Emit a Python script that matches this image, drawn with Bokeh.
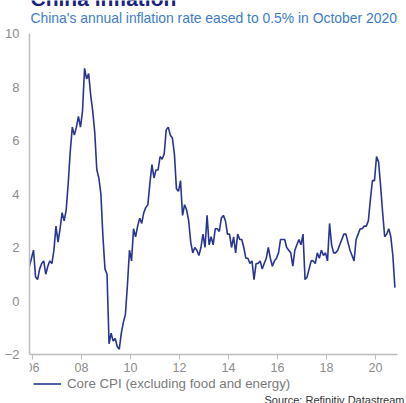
import numpy as np
from bokeh.plotting import figure
from bokeh.models import Legend, LegendItem, FixedTicker, Range1d, Label
from bokeh.embed import file_html
from bokeh.resources import INLINE

start_year = 2005
start_month = 11
cpi = [
    1.3, 1.6,
    1.9, 0.9, 0.8, 1.2, 1.4, 1.5, 1.0, 1.3, 1.5, 1.4, 1.9, 2.8,
    2.2, 2.7, 3.3, 3.0, 3.4, 4.4, 5.6, 6.5, 6.2, 6.5, 6.9, 6.5,
    7.1, 8.7, 8.3, 8.5, 7.7, 7.1, 6.3, 4.9, 4.6, 4.0, 2.4, 1.2,
    1.0, -1.6, -1.2, -1.5, -1.4, -1.7, -1.8, -1.2, -0.8, -0.5, 0.6, 1.9,
    1.5, 2.7, 2.4, 2.8, 3.1, 2.9, 3.3, 3.5, 3.6, 4.4, 5.1, 4.6,
    4.9, 4.9, 5.4, 5.3, 5.5, 6.4, 6.5, 6.2, 6.1, 5.5, 4.2, 4.1,
    4.5, 3.2, 3.6, 3.4, 3.0, 2.2, 1.8, 2.0, 1.9, 1.7, 2.0, 2.5,
    2.0, 3.2, 2.1, 2.4, 2.1, 2.7, 2.7, 2.6, 3.1, 3.2, 3.0, 2.5,
    2.5, 2.0, 2.4, 1.8, 2.5, 2.3, 2.3, 2.0, 1.6, 1.6, 1.4, 1.5,
    0.8, 1.4, 1.4, 1.5, 1.2, 1.4, 1.6, 2.0, 1.6, 1.3, 1.5, 1.6,
    1.8, 2.3, 2.3, 2.3, 2.0, 1.9, 1.8, 1.3, 1.9, 2.1, 2.3, 2.1,
    2.5, 0.8, 0.9, 1.2, 1.5, 1.5, 1.4, 1.8, 1.6, 1.9, 1.7, 1.8,
    1.5, 2.9, 2.1, 1.8, 1.8, 1.9, 2.1, 2.3, 2.5, 2.5, 2.2, 1.9,
    1.7, 1.5, 2.3, 2.5, 2.7, 2.7, 2.8, 2.8, 3.0, 3.8, 4.5, 4.5,
    5.4, 5.2, 4.3, 3.3, 2.4, 2.5, 2.7, 2.4, 1.7, 0.5,
]
x_ticks = [2006, 2008, 2010, 2012, 2014, 2016, 2018, 2020]
x_tick_labels = ["06", "08", "10", "12", "14", "16", "18", "20"]
y_ticks = [-2, 0, 2, 4, 6, 8, 10]

title_text = "China inflation"
subtitle_text = "China's annual inflation rate eased to 0.5% in October 2020"
legend_text = "Core CPI (excluding food and energy)"
source_text = "Source: Refinitiv Datastream"

months = np.arange(len(cpi))
xs = start_year + (start_month - 1 + months + 0.5) / 12.0

FONT = "Liberation Sans"
LINE = "#283593"

W, H = 406, 403
LEFT = 29
PX_PER_YEAR = 24.5
X0_PX = 32
Y_TOP_PX, Y_BOT_PX = 33, 354
px_per_unit = (Y_BOT_PX - Y_TOP_PX) / 12.0

x_lo = 2006 - (X0_PX - LEFT) / PX_PER_YEAR
x_hi = 2006 + (W - X0_PX) / PX_PER_YEAR
y_hi = 10 + Y_TOP_PX / px_per_unit
y_lo = -2 - (H - Y_BOT_PX) / px_per_unit

p = figure(width=W, height=H, output_backend="svg", toolbar_location=None,
           x_range=Range1d(x_lo, x_hi), y_range=Range1d(y_lo, y_hi),
           min_border_left=LEFT, min_border_right=0, min_border_top=0,
           min_border_bottom=0)
p.outline_line_color = None
p.xgrid.grid_line_color = None
p.ygrid.grid_line_color = None
p.background_fill_color = "white"
p.border_fill_color = "white"

r = p.line(xs, cpi, line_color=LINE, line_width=1.6)

p.xaxis.fixed_location = -2
p.xaxis.bounds = (x_lo, 2020.9)
p.yaxis.bounds = (-2, 10)
p.xaxis.ticker = FixedTicker(ticks=x_ticks)
p.xaxis.major_label_overrides = {t: l for t, l in zip(x_ticks, x_tick_labels)}
p.yaxis.ticker = FixedTicker(ticks=y_ticks)
for ax in (p.xaxis[0], p.yaxis[0]):
    ax.major_label_text_font = FONT
    ax.major_label_text_color = "#8c8c8c"
    ax.minor_tick_line_color = None
    ax.axis_line_color = "#bdbdbd"
    ax.axis_line_width = 1.5
p.xaxis.major_label_text_font_size = "12.5px"
p.yaxis.major_label_text_font_size = "13px"
p.xaxis.major_tick_line_color = "#bdbdbd"
p.xaxis.major_tick_out = 5
p.xaxis.major_tick_in = 0
p.xaxis.major_label_standoff = 3
p.yaxis.major_tick_line_color = None
p.yaxis.major_label_standoff = 4

def fy(canvas_y):
    return H - canvas_y

p.add_layout(Label(x=1, y=fy(-2.3), x_units="screen", y_units="screen", text=title_text,
                   text_font=FONT, text_font_size="21px", text_font_style="bold",
                   text_color="#1a237e", text_baseline="alphabetic"))
p.add_layout(Label(x=1, y=fy(17.4), x_units="screen", y_units="screen", text=subtitle_text,
                   text_font=FONT, text_font_size="13.9px",
                   text_color="#3d7cc9", text_baseline="alphabetic"))
p.add_layout(Label(x=235, y=fy(399), x_units="screen", y_units="screen", text=source_text,
                   text_font=FONT, text_font_size="11px",
                   text_color="#333333", text_baseline="alphabetic"))

legend = Legend(items=[LegendItem(label=legend_text, renderers=[r])],
                location=(4, fy(391)), orientation="horizontal",
                label_text_font=FONT, label_text_font_size="13.3px",
                label_text_color="#7a7a7a", glyph_width=28, glyph_height=15,
                padding=0, margin=0, border_line_color=None,
                background_fill_alpha=0, label_standoff=6, label_height=15)
p.add_layout(legend, "center")

open("out.html", "w").write(file_html(p, INLINE))
